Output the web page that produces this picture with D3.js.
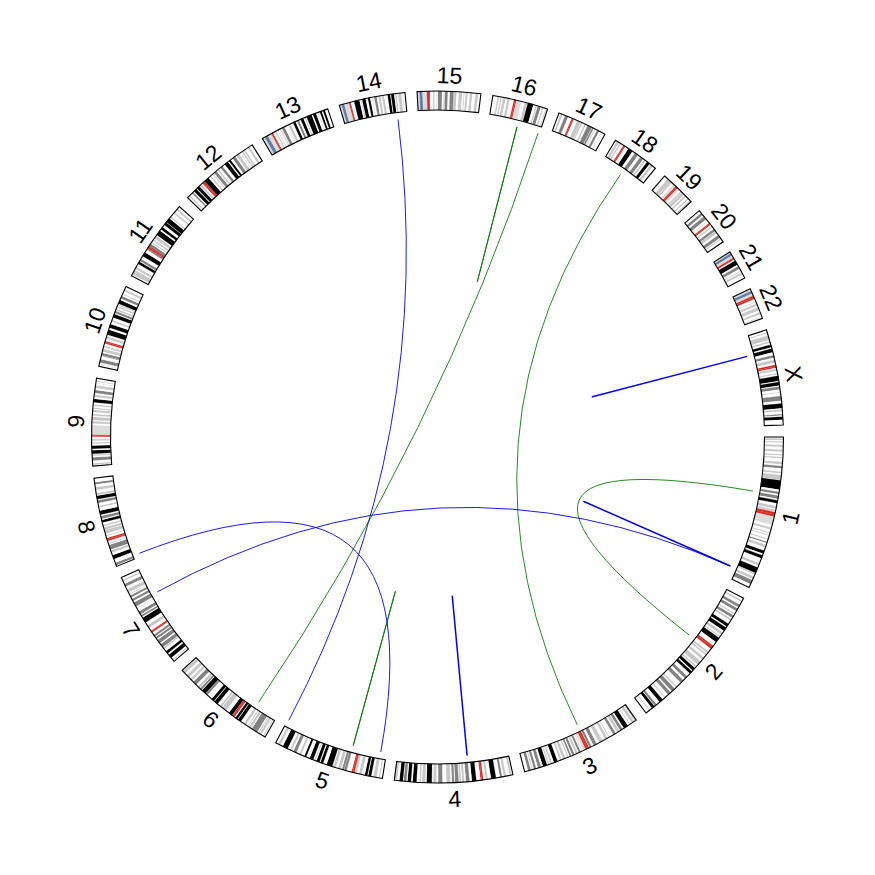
<!DOCTYPE html>
<html><head><meta charset="utf-8">
<script src="https://cdn.jsdelivr.net/npm/d3@7"></script>
<style>html,body{margin:0;padding:0;background:#fff;} svg{display:block;}</style>
</head><body><svg id="chart" width="875" height="875"></svg>
<script>
const chromosomes = ["1","2","3","4","5","6","7","8","9","10","11","12","13","14","15","16","17","18","19","20","21","22","X"];
const chromLengths = [249.25,243.2,198.02,191.15,180.92,171.12,159.14,146.36,141.21,135.53,135.01,133.85,115.17,107.35,102.53,90.35,81.2,78.08,59.13,63.03,48.13,51.3,155.27];
// cytobands: "bandEnd(Mb):stain" (n=gneg, 25/50/75/100=gpos, a=acen, v=gvar, s=stalk)
const cytobands = [
"2.3:n 5.4:25 7.2:n 9.2:25 12.7:n 16.2:50 20.4:n 23.9:25 28:n 30.2:25 32.4:n 34.6:25 40.1:n 44.1:25 46.8:n 50.7:75 56.1:n 59:50 61.3:n 68.9:50 69.7:n 84.9:100 88.4:n 92:75 94.7:n 99.7:75 102.2:n 107.2:100 111.8:n 116.1:50 117.8:n 120.6:50 121.5:n 125:a 128.9:a 142.6:v 147:n 150.3:50 155:n 156.5:50 159.1:n 160.5:50 165.5:n 167.2:50 170.9:n 172.9:75 176:n 180.3:50 185.8:n 190.8:100 193.8:n 198.7:100 207.2:n 211.5:25 214.5:n 224.1:100 224.6:n 227:25 230.7:n 234.7:50 236.6:n 243.7:75 249.25:n",
"4.4:n 7.1:50 12.2:n 16.7:75 19.2:n 24:75 27.9:n 30:25 32.1:n 36.6:75 38.6:n 41.8:50 47.8:n 52.9:100 55:n 61.3:100 64.1:n 68.6:50 71.5:n 73.5:50 75:n 83.3:100 90.5:n 93.3:a 96.8:a 102.7:n 106:50 107.5:n 110.2:25 114.4:n 118.8:50 122.4:n 129.9:50 132.5:n 135.1:25 136.8:n 142.2:100 144.1:n 148.7:100 149.9:n 150.5:25 154.9:n 159.8:75 163.7:n 169.7:75 178:n 180.6:50 183:n 189.4:75 191.9:n 197.4:75 203.3:n 204.9:50 209:n 215.3:100 221.5:n 225.2:75 226.1:n 231:100 235.6:n 237.3:50 243.2:n",
"2.8:50 4:n 8.7:50 11.8:n 13.3:25 16.4:n 23.9:100 26.4:n 30.9:75 32.1:n 36.5:50 39.4:n 43.7:75 44.1:n 44.2:50 50.6:n 52.3:25 54.4:n 58.6:50 63.7:n 69.8:50 74.2:n 79.8:75 83.5:n 87.2:75 87.9:n 91:a 93.9:a 98.3:v 100:n 100.9:25 102.8:n 106.2:75 107.9:n 111.3:50 113.5:n 117.3:75 119:n 121.9:75 123.8:n 125.8:25 129.2:n 133.7:25 135.7:n 138.7:25 142.8:n 148.9:100 152.1:n 155:50 157:n 159:50 160.7:n 167.6:100 170.9:n 175.7:75 179:n 182.7:75 184.5:n 186:25 187.9:n 192.3:75 198.02:n",
"2:n 5.6:25 11.3:n 15.2:50 17.8:n 21.3:75 27.7:n 35.8:100 41.2:n 44.6:50 48.2:n 50.4:a 52.7:a 59.5:n 66.6:100 70.5:n 76.3:75 78.9:n 82.4:50 84.1:n 86.9:25 88:n 93.7:75 95.1:n 98.8:75 101.1:n 107.7:50 114.1:n 120.8:75 123.8:n 128.8:50 131.1:n 139.5:100 141.5:n 146.8:25 148.5:n 151.1:25 155.6:n 161.8:100 164.5:n 170.1:100 171.9:n 176.3:75 177.5:n 183.2:100 187.1:n 191.15:25",
"4.5:n 6.3:25 9.8:n 15:50 18.4:n 23.3:100 24.6:n 28.9:100 33.8:n 38.4:25 42.5:n 46.1:50 48.4:a 50.7:a 58.9:n 62.9:75 63.2:n 66.7:75 68.4:n 73.3:50 76.9:n 81.4:50 82.8:n 92.3:100 98.2:n 102.8:100 104.5:n 109.6:100 111.5:n 113.1:50 115.2:n 121.4:100 127.3:n 130.6:100 136.2:n 139.5:25 144.5:n 149.8:75 152.7:n 155.7:50 159.9:n 168.5:100 172.8:n 176.6:25 180.92:n",
"2.3:n 4.2:25 7.1:n 10.6:50 11.6:n 13.4:25 15.2:n 25.2:75 27:n 30.4:50 32.1:n 33.5:25 36.6:n 40.5:25 46.2:n 51.8:100 52.9:n 57:100 58.7:n 61:a 63.3:a 63.4:n 70:100 75.9:n 83.9:50 84.9:n 88:50 93.1:n 99.5:100 100.6:n 105.5:100 114.6:n 118.3:75 118.5:n 126.1:100 127.1:n 130.3:75 131.2:n 135.2:50 139:n 145.6:75 149:n 152.5:50 155.5:n 161:50 164.5:n 170:50 171.12:n",
"2.8:n 4.5:25 7.3:n 13.8:100 16.5:n 20.9:100 25.5:n 28:50 28.8:n 35:75 37.2:n 43.3:75 45.4:n 49:75 50.5:n 54:75 58:n 59.9:a 61.7:a 67:n 72.2:50 77.5:n 86.4:100 88.2:n 91.1:75 92.8:n 98:75 103.8:n 104.5:50 107.4:n 114.6:75 117.4:n 121.1:75 123.8:n 127.1:75 129.2:n 130.4:25 132.6:n 138.2:50 143.1:n 147.9:75 152.6:n 155.1:25 159.14:n",
"2.2:n 6.2:75 12.7:n 19:100 23.3:n 27.4:50 28.8:n 36.5:75 38.3:n 39.7:25 43.1:n 45.6:a 48.1:a 52.2:n 52.6:75 55.5:n 61.6:50 62.2:n 66:50 68:n 70.5:50 73.9:n 78.3:100 80.1:n 84.6:75 86.9:n 93.3:100 99:n 101.6:25 106.2:n 110.5:75 112.1:n 117.7:100 119.2:n 122.5:50 127.3:n 131.5:50 136.4:n 139.9:75 146.36:n",
"2.2:n 4.6:25 9:n 14.2:75 16.6:n 18.5:25 19.9:n 25.6:100 28:n 33.2:100 36.3:n 38.4:25 41:n 43.6:50 47.3:n 49:a 50.7:a 65.9:v 68.7:n 72.2:25 74:n 79.2:50 81.1:n 84.1:50 86.9:n 90.4:50 91.8:n 93.9:25 96.6:n 99.3:25 102.6:n 108.2:100 111.3:n 114.9:25 117.7:n 122.5:75 125.8:n 130.3:25 133.5:n 134:25 135.9:n 137.4:25 141.21:n",
"3:n 3.8:25 6.6:n 12.2:75 17.3:n 18.6:75 18.7:n 22.6:75 24.6:n 29.6:50 31.3:n 34.4:25 38:n 40.2:a 42.3:a 46.1:n 49.9:25 52.9:n 61.2:100 64.5:n 70.6:100 74.9:n 77.7:50 82:n 87.9:100 89.5:n 92.9:75 94.1:n 97:50 99.3:n 101.9:50 103:n 104.9:25 105.8:n 111.9:100 114.9:n 119.1:75 121.7:n 123.1:50 127.5:n 130.6:50 135.53:n",
"2.8:n 10.7:50 12.7:n 16.2:50 21.7:n 26.1:100 27.2:n 31:75 36.4:n 43.5:100 48.8:n 51.6:75 53.7:a 55.7:a 59.9:75 61.7:n 63.4:25 65.9:n 68.4:25 70.4:n 75.2:50 77.1:n 85.6:100 88.3:n 92.8:100 97.2:n 102.1:100 102.9:n 110.4:100 112.5:n 114.5:50 121.2:n 123.9:50 127.8:n 130.8:50 135.01:n",
"3.3:n 5.4:25 10.1:n 12.8:75 14.8:n 20:100 21.3:n 26.5:100 27.8:n 30.7:50 33.3:n 35.8:a 38.2:a 46.4:100 49.1:n 51.5:25 54.9:n 56.6:25 58.1:n 63.1:75 65.1:n 67.7:50 71.5:n 75.7:75 80.3:n 86.7:100 88.8:n 92.2:100 95.8:n 101.2:75 103.5:n 108.6:50 111.3:n 111.9:25 113.9:n 116.4:50 117.7:n 120.3:50 125.4:n 128.9:50 133.85:n",
"4.5:v 10:s 16.3:v 17.9:a 19.5:a 23.3:n 25.5:25 27.8:n 28.9:25 32.2:n 34:50 35.5:n 40.1:75 45.2:n 45.8:25 47.3:n 50.9:50 55.3:n 59.6:100 62.3:n 65.7:75 68.6:n 73.3:100 75.4:n 77.2:50 79:n 87.7:100 90:n 95:100 98.2:n 99.3:25 101.7:n 104.8:100 107:n 110.3:100 115.17:n",
"3.7:v 8.1:s 16.1:v 17.6:a 19.1:a 24.6:n 33.3:100 35.3:n 36.6:50 37.8:n 43.5:100 47.2:n 50.9:100 54.1:n 55:25 57.6:n 61.6:75 64.3:n 67.9:50 70.2:n 73.8:50 79.3:n 83.6:100 84.9:n 89.8:100 91.4:n 94:25 96.3:n 101.4:50 103.2:n 104:50 107.35:n",
"3.9:v 8.7:s 15.8:v 19:a 20.7:a 25.7:n 28.1:50 30.3:n 31.2:50 33.6:n 40.1:75 42.8:n 43.6:25 44.8:n 49.5:75 52.9:n 59.1:75 59.3:n 63.7:25 67.2:n 67.3:25 67.5:n 72.7:25 75.2:n 76.6:25 78.3:n 81.7:50 85.2:n 89.1:50 94.3:n 98.5:50 102.53:n",
"7.9:n 10.5:50 12.6:n 14.8:50 16.8:n 21.2:50 24.2:n 28.1:50 34.6:n 36.6:a 38.6:a 47:v 52.6:n 56.7:50 57.4:n 66.7:100 70.8:n 72.9:50 74.1:n 79.2:75 81.7:n 84.2:50 87.1:n 88.7:25 90.35:n",
"3.3:n 6.5:50 10.7:n 16:75 22.2:n 24:a 25.8:a 31.8:n 38.1:50 38.4:n 40.9:25 44.9:n 47.4:25 50.2:n 57.6:75 58.3:n 61.1:75 62.6:n 64.2:50 67.1:n 70.9:75 74.8:n 75.3:25 81.2:n",
"2.9:n 7.1:50 8.5:n 10.9:25 15.4:n 17.2:a 19:a 25:n 32.7:100 37.2:n 43.5:75 48.2:n 53.8:75 56.2:n 59:50 61.6:n 66.8:100 68.7:n 73.1:25 78.08:n",
"6.9:n 13.9:25 14:n 16.3:25 20:n 24.4:v 26.5:a 28.6:a 32.4:v 35.5:n 38.3:25 38.7:n 43.4:25 45.2:n 48:25 51.4:n 53.6:25 56.3:n 59.13:25",
"5.1:n 9.2:75 12.1:n 17.9:75 21.3:n 22.3:25 25.6:n 27.5:a 29.4:a 32.1:n 34.4:25 37.6:n 41.7:75 42.1:n 46.4:25 49.8:n 55:75 56.5:n 58.4:50 63.03:n",
"2.8:v 6.8:s 10.9:v 13.2:a 14.3:a 16.4:n 24:100 26.8:n 31.5:75 35.3:n 36.4:50 38.3:n 41.6:50 48.13:n",
"3.8:v 8.3:s 12.2:v 14.7:a 17.9:a 22.2:n 23.5:25 25.9:n 29.6:50 32.2:n 37.6:50 41:n 44.2:50 48.4:n 49.4:50 51.3:n",
"4.3:n 6:50 9.5:n 17.1:50 19.3:n 21.9:50 24.9:n 29.3:100 31.5:n 37.6:100 42.4:n 46.4:75 49.8:n 54.8:25 58.1:n 60.6:a 63:a 64.6:n 67.8:50 71.8:n 73.9:50 76:n 84.6:100 86.2:n 91.8:100 93.5:n 98.3:75 102.6:n 103.7:50 108.7:n 116.5:75 120.9:n 128.7:100 130.4:n 133.6:25 138:n 140.3:75 142.1:n 147.1:100 155.27:n"
];
// links: [chrA, posA(Mb), chrB, posB(Mb)]
const blueLinks = [
  ["X", 33.5, "X", 33.5],
  ["1", 230, "1", 230],
  ["7", 111, "1", 230],
  ["8", 6.4, "5", 10],
  ["14", 91, "5", 179],
  ["4", 70.5, "4", 70.5]
];
const greenLinks = [
  ["1", 94, "2", 100.8],
  ["16", 88, "6", 39.8],
  ["16", 50, "16", 50],
  ["18", 38, "3", 88.7],
  ["5", 59, "5", 59]
];

const cx = 437.5, cy = 437;
const rIn = 327, rOut = 346, rLink = 320, rLabel = 362;
const gapDeg = 2;
const totalLen = d3.sum(chromLengths);
const degPerMb = (360 - gapDeg * chromosomes.length) / totalLen;
let acc = 0;
const sectors = chromosomes.map((c, i) => {
  const start = acc, end = start + chromLengths[i] * degPerMb;
  acc = end + gapDeg;
  return {name: c, len: chromLengths[i], start, end,
          scale: d3.scaleLinear().domain([0, chromLengths[i]]).range([start, end])};
});
const byName = new Map(sectors.map(s => [s.name, s]));
const stainColor = {n: "#FFFFFF", "25": "rgb(200,200,200)", "50": "rgb(200,200,200)", "75": "rgb(130,130,130)",
  "100": "#000000", v: "rgb(220,220,220)", a: "rgb(217,47,39)", s: "rgb(100,127,164)"};
const toRad = d => d * Math.PI / 180;
const arc = d3.arc();
const svg = d3.select("#chart");
const g = svg.append("g").attr("transform", `translate(${cx},${cy})`);

// links
function pt(chr, pos) {
  const a = toRad(byName.get(chr).scale(pos));
  return [rLink * Math.cos(a), rLink * Math.sin(a)];
}
function linkPath(l) {
  const p0 = pt(l[0], l[1]), p2 = pt(l[2], l[3]);
  const p = d3.path();
  p.moveTo(p0[0], p0[1]);
  p.quadraticCurveTo(0, 0, p2[0], p2[1]);
  return p.toString();
}
const isSelf = l => l[0] === l[2] && Math.abs(l[1] - l[3]) < 1e-9;
const linkG = g.append("g").attr("fill", "none");
linkG.selectAll("path.green").data(greenLinks).join("path").attr("class", "green")
  .attr("d", linkPath).attr("stroke", "#0a800a").attr("stroke-width", l => isSelf(l) ? 1.0 : 0.9);
linkG.selectAll("path.blue").data(blueLinks).join("path").attr("class", "blue")
  .attr("d", linkPath).attr("stroke", "#0000ff").attr("stroke-width", l => isSelf(l) ? 1.5 : 0.9);

// ideogram
sectors.forEach((s, i) => {
  let prev = 0;
  const bands = cytobands[i].trim().split(/\s+/).map(t => {
    const [e, st] = t.split(":");
    const b = {start: prev, end: Math.min(+e, s.len), stain: st};
    prev = +e;
    return b;
  });
  const sg = g.append("g");
  sg.selectAll("path").data(bands).join("path")
    .attr("d", b => arc({innerRadius: rIn, outerRadius: rOut,
      startAngle: toRad(s.scale(b.start) + 90), endAngle: toRad(s.scale(b.end) + 90)}))
    .attr("fill", b => stainColor[b.stain])
    .attr("stroke", b => stainColor[b.stain]).attr("stroke-width", 0.2);
  sg.append("path")
    .attr("d", arc({innerRadius: rIn, outerRadius: rOut, startAngle: toRad(s.start + 90), endAngle: toRad(s.end + 90)}))
    .attr("fill", "none").attr("stroke", "#000").attr("stroke-width", 1.1);
});

// labels
sectors.forEach(s => {
  const mid = (s.start + s.end) / 2;
  const x = rLabel * Math.cos(toRad(mid)), y = rLabel * Math.sin(toRad(mid));
  const m = ((mid % 360) + 360) % 360;
  const rot = (m > 0 && m < 180) ? mid - 90 : mid + 90;
  g.append("text")
    .attr("transform", `translate(${x.toFixed(2)},${y.toFixed(2)}) rotate(${rot.toFixed(2)})`)
    .attr("text-anchor", "middle").attr("dy", "0.36em")
    .attr("font-family", "'Liberation Sans', Arial, Helvetica, sans-serif")
    .attr("font-size", 23).attr("fill", "#000")
    .text(s.name);
});
</script>
</body></html>
